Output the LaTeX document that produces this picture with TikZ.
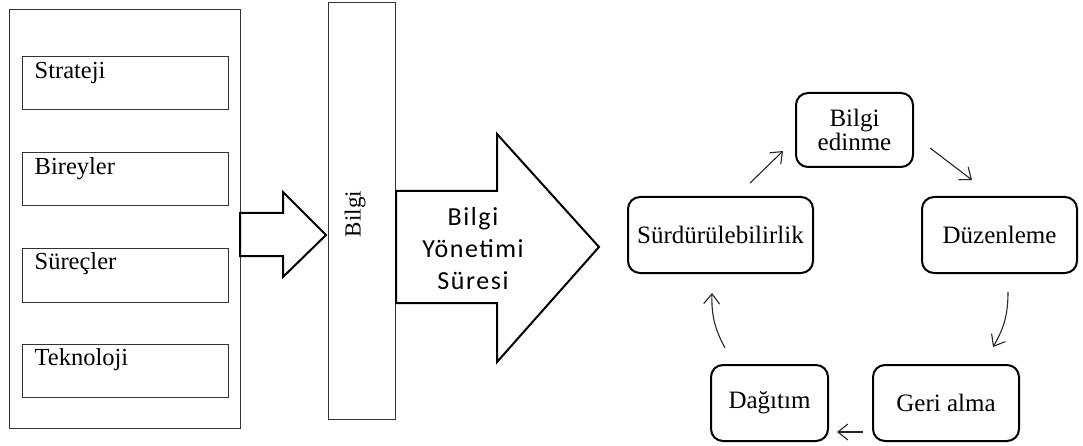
\documentclass[tikz,border=0pt]{standalone}
\usepackage{fontspec}
\setmainfont{Liberation Serif}
\newfontfamily\calfont[LetterSpace=6]{Carlito}
\usetikzlibrary{arrows.meta}
\begin{document}
\begin{tikzpicture}[x=1pt,y=-1pt,
  thinbox/.style={draw=black!80,line width=1pt,rectangle,inner sep=0pt},
  blockarrow/.style={draw=black,line width=2pt,line join=miter,fill=white},
  stagebox/.style={draw=black,line width=2pt,rounded corners=12pt,inner sep=0pt,
    font=\fontsize{25}{27}\selectfont,align=center},
  cyclearrow/.style={draw=black!85,line width=1.1pt,
    -{Straight Barb[length=10pt,width=16pt,line width=1.1pt]}},
  itemtext/.style={anchor=base west,font=\fontsize{24.5}{26}\selectfont,inner sep=0pt}]
\useasboundingbox (0,0) rectangle (1083,446);

% left column: components of knowledge management
\node[thinbox,minimum width=231pt,minimum height=418pt] (outer) at (124.5,219) {};
\node[thinbox,minimum width=206pt,minimum height=53pt] (strat) at (125,83.5) {};
\node[thinbox,minimum width=206pt,minimum height=53pt] (birey) at (125,179.5) {};
\node[thinbox,minimum width=206pt,minimum height=54pt] (surec) at (125,275) {};
\node[thinbox,minimum width=206pt,minimum height=53pt] (tekno) at (125,370.5) {};
\node[itemtext] (tstrat) at ([shift={(13pt,-22pt)}]strat.north west) {Strateji};
\node[itemtext] (tbirey) at ([shift={(13pt,-22pt)}]birey.north west) {Bireyler};
\node[itemtext] (tsurec) at ([shift={(13pt,-22pt)}]surec.north west) {Süreçler};
\node[itemtext] (ttekno) at ([shift={(13pt,-22pt)}]tekno.north west) {Teknoloji};

% small block arrow into the knowledge bar
\draw[blockarrow] (240,213) -- (283,213) -- (283,192) -- (326,235) -- (283,277)
  -- (283,256) -- (240,256) -- cycle;

% vertical knowledge bar
\node[thinbox,minimum width=67pt,minimum height=416pt] (bilgi) at (361.5,211) {};
\node[rotate=90,font=\fontsize{23}{25}\selectfont,inner sep=0pt] (tbilgi) at (355,214) {Bilgi};

% large block arrow
\draw[blockarrow] (396,191) -- (497,191) -- (497,134) -- (599,247) -- (497,362)
  -- (497,303) -- (396,303) -- cycle;
\node[font=\calfont\fontsize{26}{32}\selectfont,align=center,inner sep=0pt] (tbys)
  at (473,249) {Bilgi\\Yönetimi\\Süresi};

% knowledge management cycle
\node[stagebox,minimum width=117pt,minimum height=74pt,font=\fontsize{25}{24}\selectfont] (edin) at (854.5,130) {Bilgi\\edinme};
\node[stagebox,minimum width=185pt,minimum height=76pt] (surd) at (720.5,235) {Sürdürülebilirlik};
\node[stagebox,minimum width=155pt,minimum height=76pt] (duzen) at (999.5,235) {Düzenleme};
\node[stagebox,minimum width=117pt,minimum height=76pt] (dagit) at (769.5,403) {Dağıtım};
\node[stagebox,minimum width=146pt,minimum height=76pt] (geri) at (946,403) {Geri alma};

\coordinate (a1s) at (750,183); \coordinate (a1e) at (783,151);
\coordinate (a2s) at (930,148); \coordinate (a2e) at (972,180);
\coordinate (a3s) at (1008,292); \coordinate (a3e) at (993,347);
\coordinate (a4s) at (863,432); \coordinate (a4e) at (837,432);
\coordinate (a5s) at (725,348); \coordinate (a5e) at (712,293);

\draw[cyclearrow] (a1s) -- (a1e);
\draw[cyclearrow] (a2s) -- (a2e);
\draw[cyclearrow] (a3s) to[bend left=15] (a3e);
\draw[cyclearrow] (a4s) -- (a4e);
\draw[cyclearrow] (a5s) to[bend left=15] (a5e);
\end{tikzpicture}
\end{document}
